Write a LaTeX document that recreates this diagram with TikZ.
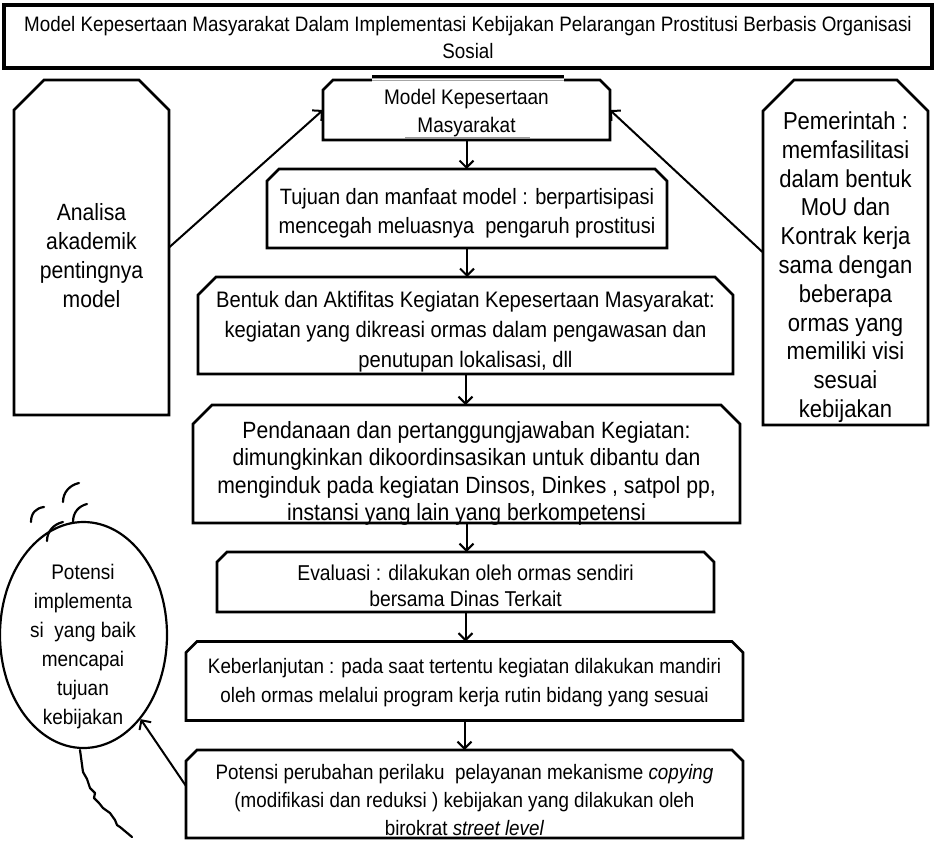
\documentclass[tikz,border=0pt]{standalone}
\usepackage{fontspec}
\setmainfont{Liberation Sans}[FakeStretch=0.9]
\usetikzlibrary{arrows.meta,shapes.geometric}

\tikzset{
  frame/.style={inner sep=0pt, outer sep=0pt},
  boxline/.style={line width=2.6pt, line join=miter},
  txt/.style={align=center, inner sep=0pt,
    execute at begin node=\strut, execute at end node=\strut},
  fs/.style 2 args={font=\fontsize{#1}{#2}\selectfont},
  arr/.style={line width=2pt, -{Straight Barb[length=7pt,width=14pt,line width=2pt]}},
  squiggle/.style={line width=2.2pt, line cap=round, line join=round},
}

% outline with the two upper corners cut off, drawn round a frame node
\newcommand\snipframe[2]{%
  \draw[boxline] (#1.south west) -- ([yshift=-#2pt]#1.north west)
    -- ([xshift=#2pt]#1.north west) -- ([xshift=-#2pt]#1.north east)
    -- ([yshift=-#2pt]#1.north east) -- (#1.south east) -- cycle;}

\begin{document}
\begin{tikzpicture}[x=1pt, y=-1pt]
\useasboundingbox (0,0) rectangle (936,841);

% heading
\node[frame, draw, line width=3.4pt, minimum width=928pt, minimum height=63pt] (title) at (468,36.5) {};
\node[txt, fs={20.9}{27}] (titletxt) at (468,41) {Model Kepesertaan Masyarakat Dalam Implementasi Kebijakan Pelarangan Prostitusi Berbasis Organisasi\\Sosial};

% frames of the main column
\node[frame, minimum width=287pt, minimum height=60pt]  (model) at (466.5,110) {};
\node[frame, minimum width=400pt, minimum height=79pt]  (tuj)   at (467,208.5) {};
\node[frame, minimum width=535pt, minimum height=97pt]  (bent)  at (465.5,325.5) {};
\node[frame, minimum width=547pt, minimum height=118pt] (dana)  at (466.5,464) {};
\node[frame, minimum width=497pt, minimum height=60pt]  (eval)  at (465.5,582) {};
\node[frame, minimum width=557pt, minimum height=79pt]  (lanj)  at (464.5,681) {};
\node[frame, minimum width=557pt, minimum height=88pt]  (pot)   at (464.5,794) {};

% side frames
\node[frame, minimum width=155pt, minimum height=335pt] (lft) at (91.5,247.5) {};
\node[frame, minimum width=165pt, minimum height=345pt] (rgt) at (845.5,252.5) {};

\snipframe{model}{10}
\snipframe{tuj}{12}
\snipframe{bent}{18}
\snipframe{dana}{19}
\snipframe{eval}{10}
\snipframe{lanj}{11}
\snipframe{pot}{11}
\snipframe{lft}{30}
\snipframe{rgt}{31}

% pasted label strip on the first box
\fill[white] (372,78.7) rectangle (564,135.5);
\draw[line width=2.6pt] (372,76.5) -- (564,76.5);
\draw[line width=1pt, black!35] (372,80.3) -- (564,80.3);
\draw[line width=2pt, black!40] (405,137.6) -- (530,137.6);

% texts
\node[txt, fs={21.1}{28}] (modeltxt) at (466.5,115.4) {Model Kepesertaan\\Masyarakat};
\node[txt, fs={22.2}{29}] (tujtxt) at (467,215) {Tujuan dan manfaat model : berpartisipasi\\mencegah meluasnya\ \ pengaruh prostitusi};
\node[txt, fs={22.4}{30}] (benttxt) at (465.5,334) {Bentuk dan Aktifitas Kegiatan Kepesertaan Masyarakat:\\kegiatan yang dikreasi ormas dalam pengawasan dan\\penutupan lokalisasi, dll};
\node[txt, fs={23.5}{27.5}] (danatxt) at (466.5,475) {Pendanaan dan pertanggungjawaban Kegiatan:\\dimungkinkan dikoordinsasikan untuk dibantu dan\\menginduk pada kegiatan Dinsos, Dinkes , satpol pp,\\instansi yang lain yang berkompetensi};
\node[txt, fs={21.5}{26}] (evaltxt) at (465.5,590) {Evaluasi : dilakukan oleh ormas sendiri\\bersama Dinas Terkait};
\node[txt, fs={20.9}{29.5}] (lanjtxt) at (464.5,685) {Keberlanjutan : pada saat tertentu kegiatan dilakukan mandiri\\oleh ormas melalui program kerja rutin bidang yang sesuai};
\node[txt, fs={20.9}{28}] (pottxt) at (464.5,804.5) {Potensi perubahan perilaku\ \ pelayanan mekanisme \textit{copying}\\(modifikasi dan reduksi ) kebijakan yang dilakukan oleh\\birokrat \textit{street level}};
\node[txt, fs={23.5}{29}] (lfttxt) at (91.5,260) {Analisa\\akademik\\pentingnya\\model};
\node[txt, fs={24.5}{28.8}] (rgttxt) at (845.5,269) {Pemerintah :\\memfasilitasi\\dalam bentuk\\MoU dan\\Kontrak kerja\\sama dengan\\beberapa\\ormas yang\\memiliki visi\\sesuai\\kebijakan};

% thinking head
\node[draw, ellipse, line width=2.2pt, inner sep=0pt, minimum width=167pt, minimum height=226pt] (ell) at (83.5,635) {};
\node[txt, fs={21.1}{29}] (elltxt) at (83,648.5) {Potensi\\implementa\\si\ \ yang baik\\mencapai\\tujuan\\kebijakan};
\draw[squiggle] (31,522) .. controls (31,513) and (36,508) .. (44,507);
\draw[squiggle] (63,502) .. controls (63,492) and (70,485) .. (79,483);
\draw[squiggle] (73,522) .. controls (73,512) and (79,506) .. (87,504);
\draw[squiggle] (47,541) .. controls (47,531) and (54,524) .. (63,522);
\draw[squiggle] (80,750) -- (83,772) -- (87,779) -- (90,788) -- (95,793) -- (94,798)
  -- (99,803) -- (103,808) -- (110,813) -- (115,820) -- (117,825) -- (120,827) -- (132,837);

% connectors
\draw[arr] (lft.east) -- (model.west);
\draw[arr] (rgt.west) -- (model.east);
\draw[arr] (model.south) -- (model.south |- tuj.north);
\draw[arr] (tuj.south) -- (tuj.south |- bent.north);
\draw[arr] (bent.south) -- (bent.south |- dana.north);
\draw[arr] (dana.south) -- (dana.south |- eval.north);
\draw[arr] (eval.south) -- (eval.south |- lanj.north);
\draw[arr] (lanj.south) -- (lanj.south |- pot.north);
\draw[arr] ([yshift=8pt]pot.west) -- (ell);
\end{tikzpicture}
\end{document}
